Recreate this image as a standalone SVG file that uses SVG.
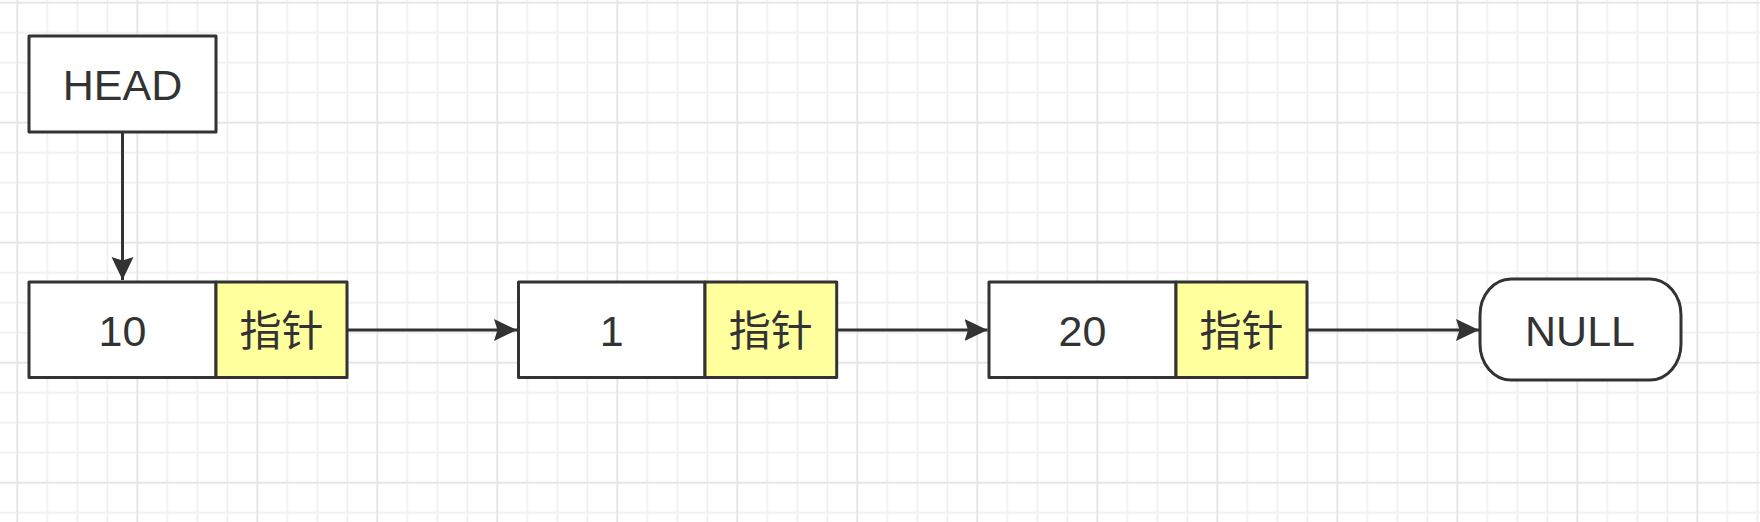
<svg xmlns="http://www.w3.org/2000/svg" width="1760" height="522" viewBox="0 0 1760 522">
  <style>
    .box { fill: #ffffff; stroke: #333333; stroke-width: 3; stroke-linejoin: round; }
    .ptr { fill: #ffff9e; stroke: #333333; stroke-width: 3; stroke-linejoin: round; }
    .lbl { font-family: "Liberation Sans", Arial, Helvetica, sans-serif; font-size: 43px; fill: #333333; text-anchor: middle; }
    .cjk { font-family: "Noto Sans CJK SC", "Noto Sans CJK TC", sans-serif; font-size: 42px; fill: #333333; text-anchor: middle; }
    .edge { fill: none; stroke: #333333; stroke-width: 3; }
  </style>
  <defs>
    <pattern id="grid" patternUnits="userSpaceOnUse" x="16.3" y="1.7" width="120" height="120">
      <path d="M31 0V120M61 0V120M91 0V120M0 31H120M0 61H120M0 91H120" stroke="#f2f2f2" stroke-width="2" fill="none"/>
      <path d="M1 0V120M0 1H120" stroke="#e6e6e6" stroke-width="2" fill="none"/>
    </pattern>
    <marker id="arrow" markerUnits="userSpaceOnUse" markerWidth="26" markerHeight="24" refX="23" refY="11" orient="auto">
      <path d="M0,0 L23,11 L0,22 L3.5,11 Z" fill="#333333"/>
    </marker>
  </defs>

  <rect x="0" y="0" width="1760" height="522" fill="#ffffff"/>
  <rect x="0" y="0" width="1760" height="522" fill="url(#grid)"/>

  <g id="connectors">
    <path class="edge" d="M122.5 132 L122.5 280" marker-end="url(#arrow)"/>
    <path class="edge" d="M347 330 L517 330" marker-end="url(#arrow)"/>
    <path class="edge" d="M836.7 330 L987.5 330" marker-end="url(#arrow)"/>
    <path class="edge" d="M1307 330 L1479 330" marker-end="url(#arrow)"/>
  </g>

  <g id="head">
    <rect class="box" x="29" y="36" width="187" height="96"/>
    <text class="lbl" x="122.5" y="99.5">HEAD</text>
  </g>

  <g id="node1">
    <rect class="box" x="29" y="282" width="187" height="95.5"/>
    <rect class="ptr" x="216" y="282" width="131" height="95.5"/>
    <text class="lbl" x="122.5" y="345.5">10</text>
    <text class="cjk" x="281.5" y="345.5">指针</text>
  </g>

  <g id="node2">
    <rect class="box" x="518.5" y="282" width="186.5" height="95.5"/>
    <rect class="ptr" x="705" y="282" width="131.7" height="95.5"/>
    <text class="lbl" x="611.8" y="345.5">1</text>
    <text class="cjk" x="770.8" y="345.5">指针</text>
  </g>

  <g id="node3">
    <rect class="box" x="989" y="282" width="187" height="95.5"/>
    <rect class="ptr" x="1176" y="282" width="131" height="95.5"/>
    <text class="lbl" x="1082.5" y="345.5">20</text>
    <text class="cjk" x="1241.5" y="345.5">指针</text>
  </g>

  <g id="null">
    <rect class="box" x="1480" y="279" width="201" height="101" rx="31" ry="36"/>
    <text class="lbl" x="1580" y="345.5">NULL</text>
  </g>
</svg>
